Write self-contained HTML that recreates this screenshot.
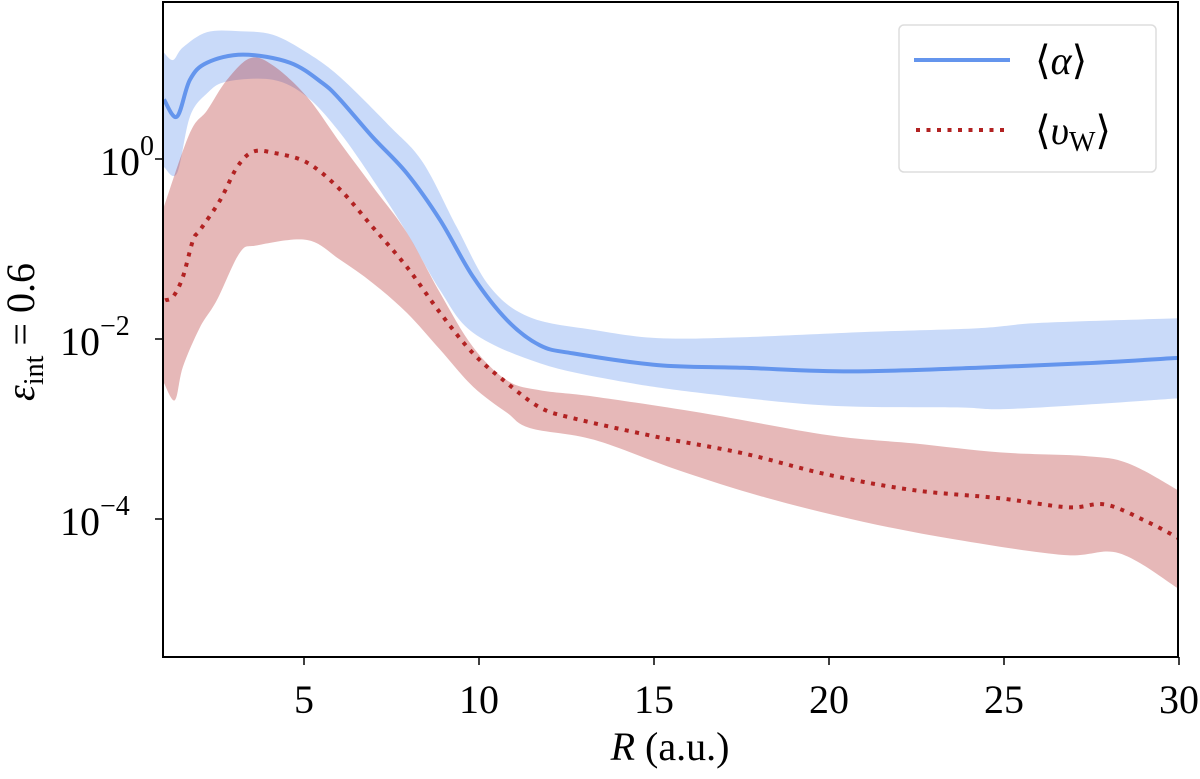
<!DOCTYPE html>
<html><head><meta charset="utf-8"><style>
body{margin:0;background:#fff;}
svg{display:block;font-family:"Liberation Serif","DejaVu Serif",serif;}
</style></head><body>
<svg id="chart" width="1200" height="779">
<defs><clipPath id="plotclip"><rect x="163" y="2" width="1015" height="655"/></clipPath></defs>
<g id="bands" clip-path="url(#plotclip)"></g>
<g id="lines" clip-path="url(#plotclip)"></g>
<rect x="163" y="2" width="1015" height="655" fill="none" stroke="#000" stroke-width="2"/>
<g id="xticks"></g>
<g id="yticks"></g>
<text x="670" y="760" font-size="40" text-anchor="middle"><tspan font-style="italic">R</tspan> (a.u.)</text>
<text transform="translate(34,332) rotate(-90)" font-size="40" text-anchor="middle"><tspan font-style="italic">ε</tspan><tspan font-size="28" dy="9">int</tspan><tspan dy="-9"> = 0.6</tspan></text>
<g>
<rect x="899" y="25" width="257" height="147" rx="5" fill="#fff" fill-opacity="0.8" stroke="#ddd" stroke-width="1.5"/>
<line x1="914" y1="60" x2="1010" y2="60" stroke="#6495ED" stroke-width="4"/>
<text x="1035" y="74" font-size="40">⟨<tspan font-style="italic">α</tspan>⟩</text>
<line x1="916" y1="130" x2="1010" y2="130" stroke="#b22222" stroke-width="4" stroke-dasharray="4 6.5"/>
<text x="1035" y="144" font-size="40">⟨<tspan font-style="italic">υ</tspan><tspan font-size="28" dy="7">W</tspan><tspan dy="-7">⟩</tspan></text>
</g>
</svg>
<script>
// data: R (a.u.) and log10 values
const alphaR = [1.0,1.37,1.74,2.23,3.26,4.6,5.54,6.03,6.97,7.94,8.89,9.83,10.8,11.74,12.69,15.11,17.54,20.6,24.26,27.31,29.97];
const alphaLog = [0.66,0.47,0.88,1.07,1.16,1.07,0.84,0.66,0.24,-0.16,-0.68,-1.31,-1.79,-2.07,-2.16,-2.29,-2.32,-2.36,-2.32,-2.27,-2.21];
const alphaUpR = [1.0,1.26,1.54,2.23,3.17,4.11,5.09,6.03,7.46,8.4,9.37,10.31,11.46,13.29,15.11,17.54,21.2,24.26,26.09,29.97];
const alphaUpLog = [1.18,1.10,1.24,1.41,1.42,1.38,1.18,0.91,0.36,-0.04,-0.76,-1.42,-1.76,-1.9,-1.99,-1.98,-1.92,-1.88,-1.82,-1.77];
const alphaLoR = [1.0,1.37,1.74,2.23,2.8,4.11,5.09,6.03,6.97,7.94,8.89,9.83,11.74,13.89,16.34,20.0,23.66,24.89,27.31,29.97];
const alphaLoLog = [-0.09,-0.16,0.47,0.73,0.86,0.88,0.69,0.29,-0.23,-0.82,-1.46,-1.93,-2.27,-2.46,-2.6,-2.74,-2.76,-2.78,-2.73,-2.66];
const vwR = [1.03,1.26,1.54,1.83,2.03,2.6,3.09,3.54,4.11,5.09,6.03,6.97,7.94,8.89,9.83,10.8,11.74,12.69,15.11,17.54,20.0,22.43,24.89,26.83,27.91,29.14,29.97];
const vwLog = [-1.57,-1.53,-1.31,-0.9,-0.79,-0.46,-0.09,0.08,0.07,-0.04,-0.34,-0.76,-1.2,-1.71,-2.16,-2.49,-2.76,-2.88,-3.09,-3.27,-3.51,-3.68,-3.77,-3.87,-3.84,-4.04,-4.21];
const vwUpR = [1.0,1.74,2.23,2.8,3.46,4.11,5.09,6.03,6.97,7.94,8.89,9.83,10.8,11.74,13.29,16.34,20.0,22.43,24.89,27.31,28.54,29.97];
const vwUpLog = [-0.53,0.29,0.54,0.88,1.12,1.04,0.69,0.18,-0.31,-0.82,-1.49,-2.09,-2.46,-2.57,-2.64,-2.82,-3.07,-3.16,-3.26,-3.3,-3.38,-3.68];
const vwLoR = [1.0,1.31,1.54,2.03,2.51,3.17,3.66,5.09,6.03,6.97,7.94,8.89,9.83,10.8,11.46,13.29,15.71,18.17,20.97,23.66,26.71,28.29,29.97];
const vwLoLog = [-2.49,-2.68,-2.31,-1.87,-1.57,-1.04,-0.96,-0.9,-1.12,-1.38,-1.71,-2.12,-2.53,-2.82,-2.99,-3.12,-3.46,-3.76,-4.03,-4.23,-4.4,-4.38,-4.77];
const xTicks = [5,10,15,20,25,30];
const yTicks = [0,-2,-4];

const NS = 'http://www.w3.org/2000/svg';
const X0 = 164, XS = 35;
const Y0 = 159, YS = 90;
function xs(r){ return X0 + (r-1)*XS; }
function ys(l){ return Y0 - l*YS; }
function pts(R,L){ return R.map((r,i)=>[xs(r),ys(L[i])]); }
function curve(p, move){
  let d = (move?'M':'L') + p[0][0].toFixed(1)+','+p[0][1].toFixed(1);
  for(let i=0;i<p.length-1;i++){
    const p0=p[Math.max(i-1,0)],p1=p[i],p2=p[i+1],p3=p[Math.min(i+2,p.length-1)];
    const c1=[p1[0]+(p2[0]-p0[0])/6,p1[1]+(p2[1]-p0[1])/6];
    const c2=[p2[0]-(p3[0]-p1[0])/6,p2[1]-(p3[1]-p1[1])/6];
    d+=' C'+c1[0].toFixed(1)+','+c1[1].toFixed(1)+' '+c2[0].toFixed(1)+','+c2[1].toFixed(1)+' '+p2[0].toFixed(1)+','+p2[1].toFixed(1);
  }
  return d;
}
function band(upR,upL,loR,loL){
  const u=pts(upR,upL), l=pts(loR,loL).reverse();
  return curve(u,true)+' '+curve(l,false)+' Z';
}
const bands=document.getElementById('bands');
const lines=document.getElementById('lines');

const ba=document.createElementNS(NS,'path');
ba.setAttribute('d',band(alphaUpR,alphaUpLog,alphaLoR,alphaLoLog));
ba.setAttribute('fill','#6495ED'); ba.setAttribute('fill-opacity','0.35');


bands.appendChild(ba);

const bv=document.createElementNS(NS,'path');
bv.setAttribute('d',band(vwUpR,vwUpLog,vwLoR,vwLoLog));
bv.setAttribute('fill','#b22222'); bv.setAttribute('fill-opacity','0.32');


bands.appendChild(bv);

const la=document.createElementNS(NS,'path');
la.setAttribute('d',curve(pts(alphaR,alphaLog),true));
la.setAttribute('fill','none'); la.setAttribute('stroke','#6495ED'); la.setAttribute('stroke-width','4');


lines.appendChild(la);

const lv=document.createElementNS(NS,'path');
lv.setAttribute('d',curve(pts(vwR,vwLog),true));
lv.setAttribute('fill','none'); lv.setAttribute('stroke','#b22222'); lv.setAttribute('stroke-width','4');
lv.setAttribute('stroke-dasharray','4 6.5');


lines.appendChild(lv);

const xg=document.getElementById('xticks');
xTicks.forEach(t=>{
  const x=xs(t);
  const tk=document.createElementNS(NS,'line');
  tk.setAttribute('x1',x); tk.setAttribute('x2',x); tk.setAttribute('y1',657); tk.setAttribute('y2',665);
  tk.setAttribute('stroke','#000'); tk.setAttribute('stroke-width','1.5');
  
  
  xg.appendChild(tk);
  const tx=document.createElementNS(NS,'text');
  tx.setAttribute('x',x); tx.setAttribute('y',713); tx.setAttribute('font-size','40'); tx.setAttribute('text-anchor','middle');
  tx.textContent=t;
  
  
  xg.appendChild(tx);
});
const yg=document.getElementById('yticks');
yTicks.forEach(t=>{
  const y=ys(t);
  const tk=document.createElementNS(NS,'line');
  tk.setAttribute('x1',155); tk.setAttribute('x2',163); tk.setAttribute('y1',y); tk.setAttribute('y2',y);
  tk.setAttribute('stroke','#000'); tk.setAttribute('stroke-width','1.5');
  
  
  yg.appendChild(tk);
  const tx=document.createElementNS(NS,'text');
  tx.setAttribute('x',(t===0?100:60)); tx.setAttribute('y',y+16); tx.setAttribute('font-size','40');
  tx.innerHTML='10<tspan font-size="28" dy="-20">'+(t<0?'−'+(-t):t)+'</tspan>';
  
  
  yg.appendChild(tx);
});
</script>
</body></html>
